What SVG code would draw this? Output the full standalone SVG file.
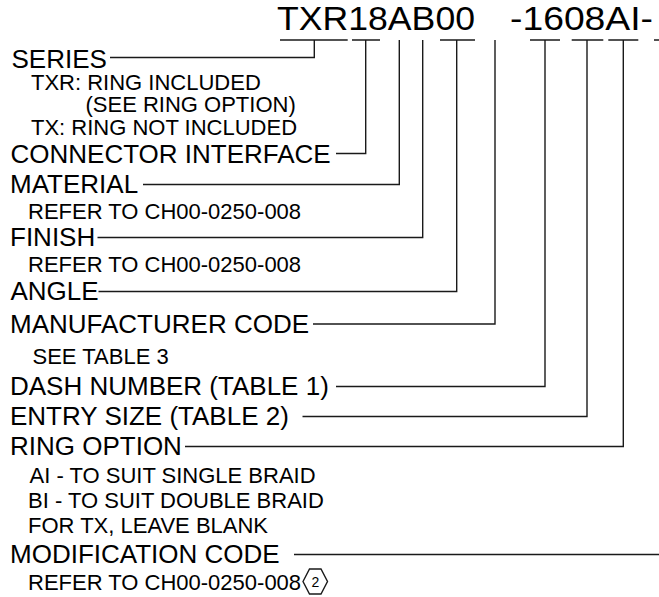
<svg xmlns="http://www.w3.org/2000/svg" width="659" height="597" viewBox="0 0 659 597">
<style>
.t{font-family:"Liberation Sans",Arial,sans-serif;fill:#000}
.title{font-size:33px}
.big{font-size:26px}
.sm{font-size:22px}
.hx{font-size:14px}
.ln{fill:none;stroke:#1a1a1a;stroke-width:1.4}
</style>
<rect width="659" height="597" fill="#fff"/>
<g id="part-number">
<text class="t title" x="277" y="30" textLength="198" lengthAdjust="spacingAndGlyphs">TXR18AB00</text>
<text class="t title" x="510" y="30" textLength="143" lengthAdjust="spacingAndGlyphs">-1608AI-</text>
</g>
<g id="series"><text class="t big" x="11.5" y="68">SERIES</text>
<text class="t sm" x="31" y="90">TXR: RING INCLUDED</text>
<text class="t sm" x="85.5" y="111.5">(SEE RING OPTION)</text>
<text class="t sm" x="31" y="134.5">TX: RING NOT INCLUDED</text></g>
<g id="connector-interface"><text class="t big" x="10.5" y="163">CONNECTOR INTERFACE</text></g>
<g id="material"><text class="t big" x="10" y="193">MATERIAL</text>
<text class="t sm" x="28" y="218.5">REFER TO CH00-0250-008</text></g>
<g id="finish"><text class="t big" x="10" y="246">FINISH</text>
<text class="t sm" x="28" y="271.5">REFER TO CH00-0250-008</text></g>
<g id="angle"><text class="t big" x="10.5" y="300">ANGLE</text></g>
<g id="manufacturer-code"><text class="t big" x="10" y="332.5">MANUFACTURER CODE</text>
<text class="t sm" x="32.5" y="364">SEE TABLE 3</text></g>
<g id="dash-number"><text class="t big" x="10" y="394.5">DASH NUMBER (TABLE 1)</text></g>
<g id="entry-size"><text class="t big" x="10" y="425">ENTRY SIZE (TABLE 2)</text></g>
<g id="ring-option"><text class="t big" x="10" y="455">RING OPTION</text>
<text class="t sm" x="29.5" y="483">AI - TO SUIT SINGLE BRAID</text>
<text class="t sm" x="28" y="508">BI - TO SUIT DOUBLE BRAID</text>
<text class="t sm" x="28" y="533">FOR TX, LEAVE BLANK</text></g>
<g id="modification-code"><text class="t big" x="10" y="563">MODIFICATION CODE</text>
<text class="t sm" x="28" y="590">REFER TO CH00-0250-008</text>
<polygon class="ln" points="303,581.5 309.5,569 321,569 327.5,581.5 321,594 309.5,594" stroke-width="1.1"/>
<text class="t hx" x="315.3" y="586.5" text-anchor="middle">2</text></g>
<g id="connectors">
<path class="ln" d="M280,40H347.7M352,40H380M440,40H475M530,40H560M571.7,40H603.3M608.3,40H638.3M654,40H659"/>
<path class="ln" d="M314.3,40V57.5H110"/>
<path class="ln" d="M365.7,40V153.5H336"/>
<path class="ln" d="M399.3,40V184.5H143"/>
<path class="ln" d="M422.7,40V237.5H97.5"/>
<path class="ln" d="M456.7,40V291.5H98.5"/>
<path class="ln" d="M495,40V324H313"/>
<path class="ln" d="M545,40V386.5H336"/>
<path class="ln" d="M587,40V416.5H302.5"/>
<path class="ln" d="M623.3,40V446.5H185"/>
<path class="ln" d="M294,554.5H659"/>
</g>
</svg>
